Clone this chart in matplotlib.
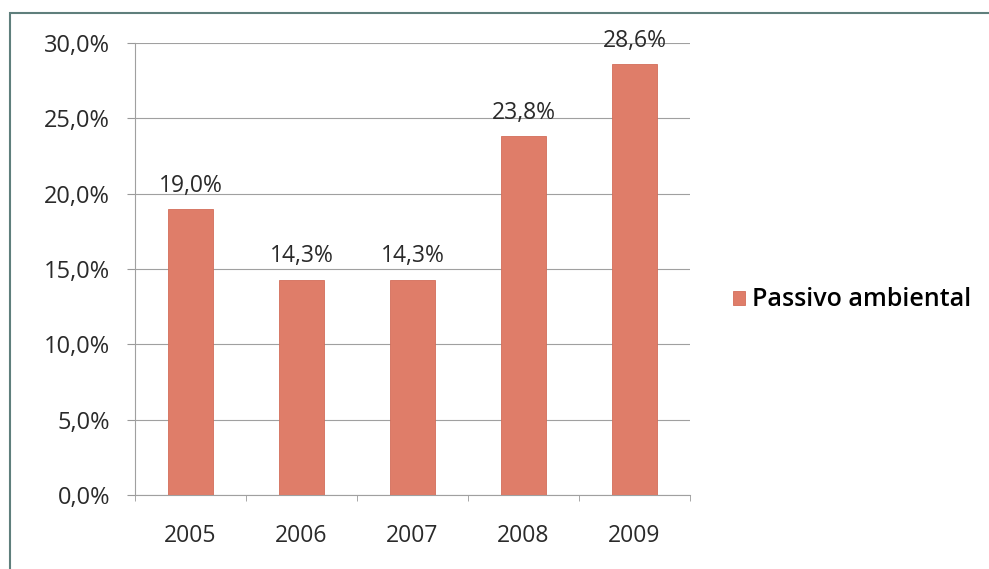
import matplotlib
matplotlib.use("Agg")
import matplotlib.pyplot as plt
from matplotlib.patches import Rectangle

anos = ["2005", "2006", "2007", "2008", "2009"]
passivo = [19.0, 14.3, 14.3, 23.8, 28.6]
rotulos = ["19,0%", "14,3%", "14,3%", "23,8%", "28,6%"]
yticks = [0, 5, 10, 15, 20, 25, 30]
ytick_labels = ["0,0%", "5,0%", "10,0%", "15,0%", "20,0%", "25,0%", "30,0%"]

plt.rcParams["font.family"] = ["Open Sans", "DejaVu Sans"]
W, H = 989, 569
fig = plt.figure(figsize=(W / 100, H / 100), dpi=100)
ax = fig.add_axes([135 / W, 1 - 495 / H, (690 - 135) / W, (495 - 43) / H])

cor = "#DF7D69"
txt = "#2a2a2a"
x = list(range(len(anos)))
bars = ax.bar(x, passivo, width=0.41, color=cor, edgecolor="#D36E5A", lw=0.6,
              label="Passivo ambiental", zorder=3)
for xi, v, r in zip(x, passivo, rotulos):
    ax.annotate(r, (xi, v), xytext=(0, 8), textcoords="offset points",
                ha="center", va="bottom", fontsize=16.5, color=txt, zorder=4)

ax.set_xlim(-0.5, 4.5)
ax.set_ylim(0, 30)
ax.set_yticks(yticks)
ax.set_yticklabels(ytick_labels, fontsize=17, color=txt)
ax.set_xticks(x)
ax.set_xticklabels(anos, fontsize=16.5, color=txt)
ax.set_xticks([i - 0.5 for i in range(6)], minor=True)
ax.tick_params(axis="x", which="major", length=0, pad=21)
ax.tick_params(axis="x", which="minor", length=4, color="#999999", direction="out")
ax.tick_params(axis="y", length=6, color="#999999", pad=12)
ax.grid(axis="y", color="#a0a0a0", lw=0.8, zorder=0)
ax.set_axisbelow(True)
for s in ["top", "right"]:
    ax.spines[s].set_visible(False)
for s in ["left", "bottom"]:
    ax.spines[s].set_color("#a0a0a0")
    ax.spines[s].set_linewidth(0.8)

fig.legend(handles=[bars], labels=["Passivo ambiental"], loc="center left",
           bbox_to_anchor=(710 / W, 1 - 300 / H), frameon=False,
           prop={"family": ["Open Sans", "DejaVu Sans"], "size": 18, "weight": "semibold"},
           handlelength=0.5, handleheight=0.5, handletextpad=0.3)

fig.patches.append(Rectangle((10 / W, -0.1), 1.2, 1 - 13 / H + 0.1, transform=fig.transFigure,
                             fill=False, edgecolor="#5F7F7C", lw=1.5))

fig.savefig("out.png", dpi=100)
